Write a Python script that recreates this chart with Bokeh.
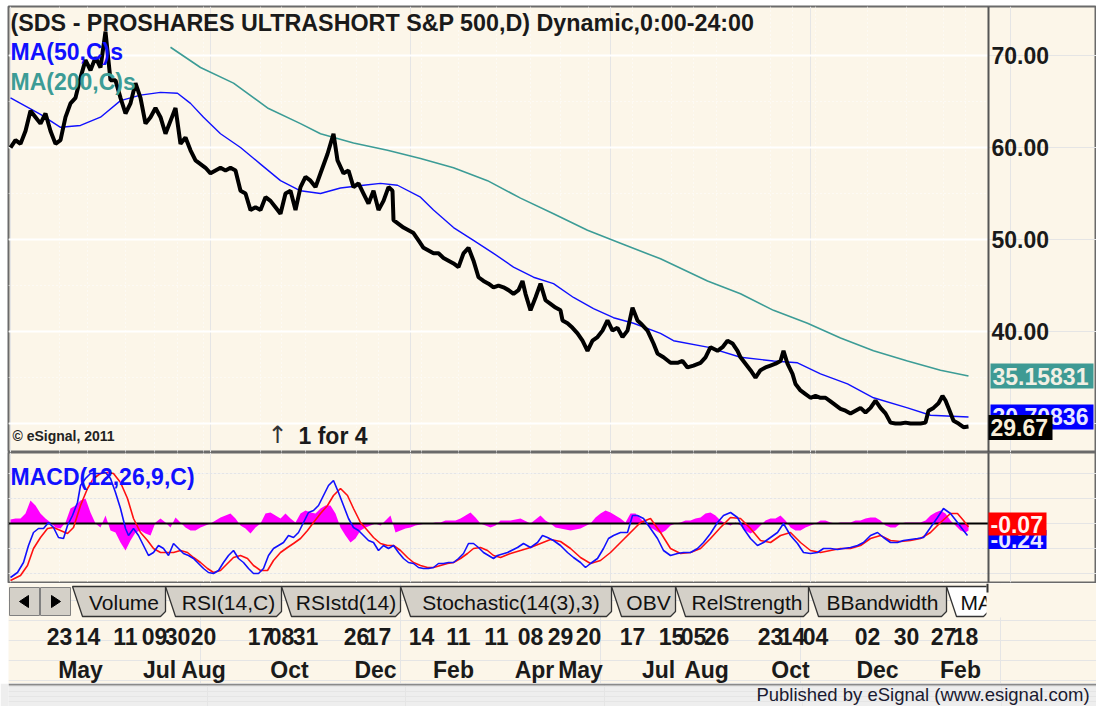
from bokeh.plotting import figure
from bokeh.models import Range1d, Label
from bokeh.layouts import column
from bokeh.embed import file_html
from bokeh.resources import INLINE
from bokeh.core.properties import value

# ---------------- data (session index, value) ----------------
close_pts = [(0, 60.0), (2.5, 60.8), (5, 60.4), (7.5, 61.8), (10, 64.0), (12.5, 63.3), (15, 62.6), (17.5, 63.7),
             (20, 61.8), (22.5, 60.4), (25, 60.8), (27.5, 63.3), (30, 64.8), (32.5, 65.4), (35, 67.6), (37.5, 69.5),
             (40, 68.4), (42.5, 69.8), (45, 68.7), (47.5, 72.6), (50, 67.3), (52.5, 67.3), (55, 65.4), (57.5, 63.7),
             (60, 64.8), (62.5, 67.0), (65, 65.4), (67.5, 62.6), (70, 63.3), (72.5, 64.3), (75, 63.3), (77.5, 61.5),
             (80, 62.9), (82.5, 64.3), (85, 60.4), (87.5, 61.1), (90, 59.7), (92.5, 58.6), (95, 58.2), (97.5, 57.8),
             (100, 57.2), (102.5, 57.5), (105, 57.8), (107.5, 57.5), (110, 57.8), (112.5, 57.5), (115, 55.3),
             (117.5, 55.0), (120, 53.2), (122.5, 53.5), (125, 53.2), (127.5, 54.6), (130, 54.2), (132.5, 53.5),
             (135, 52.8), (137.5, 55.0), (140, 55.3), (142.5, 53.2), (145, 55.7), (147.5, 56.8), (150, 56.4),
             (152.5, 55.7), (155, 57.2), (158.5, 59.3), (161.5, 61.5), (163.5, 58.6), (166.5, 57.2), (169, 57.5),
             (171.5, 55.7), (174, 56.1), (176.5, 55.0), (179, 53.9), (181.5, 55.3), (184, 53.2), (186.5, 54.2),
             (189, 55.7), (191, 55.3), (191.5, 52.1), (194, 51.7), (196.5, 51.3), (199, 51.0), (201.5, 50.7),
             (204, 49.9), (206.5, 49.1), (209, 48.8), (211.5, 48.5), (214, 48.5), (216.5, 48.0), (219, 47.7),
             (221.5, 47.4), (224, 47.0), (226.5, 48.5), (229, 49.1), (231.5, 47.7), (234, 45.9), (236.5, 45.5),
             (239, 45.2), (241.5, 44.8), (244, 45.0), (246.5, 44.8), (249, 44.5), (251.5, 44.1), (254, 44.5),
             (256, 45.5), (257.5, 44.1), (260, 42.3), (262.5, 43.7), (265, 45.2), (267.5, 43.4), (270, 43.0),
             (272.5, 42.6), (275, 42.3), (276, 41.2), (278.5, 40.9), (281, 40.4), (283.5, 39.8), (286, 39.0),
             (288.5, 37.9), (291, 39.0), (293.5, 39.4), (296, 40.1), (298.5, 41.2), (301, 40.1), (303.5, 40.4),
             (306, 39.4), (308.5, 40.1), (311, 42.6), (313.5, 41.2), (315, 40.9), (318.5, 40.1), (321.5, 38.7),
             (323.5, 37.6), (326.5, 37.2), (330, 36.6), (333.5, 36.6), (336, 36.8), (338.5, 36.1), (341.5, 36.3),
             (345, 36.6), (347.5, 37.2), (350, 38.3), (353.5, 37.9), (356, 38.3), (358.5, 39.0), (361, 38.7),
             (363.5, 37.9), (365, 37.2), (367.5, 36.5), (370, 35.8), (372.5, 35.0), (375, 35.8), (377.5, 36.1),
             (380, 36.3), (382.5, 36.5), (385, 36.8), (386.5, 37.9), (388.5, 36.5), (391, 35.4), (392.5, 34.3),
             (395, 33.6), (397.5, 33.2), (400, 32.8), (402.5, 33.0), (405, 32.8), (407.5, 32.8), (410, 32.4),
             (412.5, 32.0), (415, 31.6), (417.5, 31.4), (420, 31.1), (422.5, 31.4), (425, 31.7), (427.5, 31.2),
             (430, 31.7), (432.5, 32.5), (435, 31.7), (437.5, 31.1), (440, 30.1), (442.5, 30.0), (445, 30.0),
             (447.5, 30.1), (450, 30.0), (452.5, 30.0), (455, 30.0), (457.5, 30.1), (459, 31.4), (461.5, 31.7),
             (464, 32.2), (466, 33.0), (467.5, 32.5), (469, 31.7), (471.5, 30.3), (474, 30.0), (476.5, 29.6),
             (479, 29.67)]

ma50_pts = [(0, 65.4), (15, 63.6), (25, 62.2), (35, 62.4), (45, 63.3), (55, 65.1), (65, 65.7), (75, 66.0),
            (83.5, 65.9), (90, 64.8), (96.5, 63.3), (105, 61.5), (115, 60.0), (125, 58.2), (135, 56.4),
            (145, 55.3), (155, 55.0), (165, 55.6), (176.5, 55.9), (185, 56.1), (193.5, 55.9), (205, 54.6),
            (211.5, 53.2), (221.5, 51.3), (231.5, 49.9), (241.5, 48.5), (251.5, 47.0), (261.5, 45.9),
            (271.5, 45.2), (281.5, 43.7), (291.5, 42.5), (301.5, 41.5), (311.5, 40.9), (325, 39.8), (331.5, 39.0),
            (348.5, 38.3), (365, 37.2), (381.5, 36.8), (393.5, 36.6), (405, 35.4), (418.5, 34.3), (431.5, 32.8),
            (448.5, 31.7), (460, 30.9), (479, 30.71)]

ma200_pts = [(80, 70.9), (95, 68.7), (111.5, 67.0), (128.5, 64.3), (145, 62.6), (155, 61.5), (171.5, 60.5),
             (188.5, 59.7), (205, 58.8), (221.5, 57.8), (238.5, 56.4), (255, 54.5), (271.5, 52.8), (288.5, 51.0),
             (305, 49.6), (325, 47.9), (348.5, 45.5), (365, 44.1), (381.5, 42.3), (398.5, 40.9), (415, 39.3),
             (431.5, 37.9), (448.5, 36.8), (465, 35.8), (479, 35.16)]

macd_pts = [(0, -1.08), (3.5, -0.98), (6.5, -0.78), (9, -0.44), (11.5, -0.18), (14, -0.10), (16.5, -0.10),
            (19, 0.02), (21.5, -0.08), (24, -0.28), (26.5, -0.30), (28.5, -0.04), (31, 0.16), (33.5, 0.42),
            (35, 0.76), (37.5, 0.90), (40, 1.00), (42.5, 1.00), (45, 1.00), (47.5, 1.02), (50, 0.90),
            (52.5, 0.62), (55, 0.30), (57.5, -0.10), (59, -0.24), (61.5, -0.10), (64, -0.24), (66.5, -0.44),
            (69, -0.64), (71.5, -0.58), (74, -0.44), (76.5, -0.50), (79, -0.64), (81.5, -0.40), (84, -0.50),
            (86.5, -0.60), (89, -0.64), (91.5, -0.70), (94, -0.80), (96.5, -0.90), (99, -0.98), (101.5, -1.00),
            (104, -0.94), (106.5, -0.78), (109, -0.64), (111.5, -0.54), (114, -0.70), (116.5, -0.78),
            (119, -0.90), (121.5, -1.00), (124, -1.00), (126.5, -0.90), (129, -0.64), (131.5, -0.50),
            (134, -0.44), (136.5, -0.38), (139, -0.24), (141.5, -0.28), (144, -0.18), (146.5, 0.02), (149, 0.22),
            (151.5, 0.26), (154, 0.36), (156.5, 0.56), (159, 0.76), (161.5, 0.86), (164, 0.62), (166.5, 0.36),
            (169, 0.10), (171.5, -0.08), (174, -0.14), (176.5, -0.24), (179, -0.34), (181.5, -0.38),
            (184, -0.54), (186.5, -0.44), (189, -0.50), (191.5, -0.44), (194, -0.58), (196.5, -0.70),
            (199, -0.78), (201.5, -0.80), (204, -0.88), (206.5, -0.90), (209, -0.90), (211.5, -0.88),
            (214, -0.80), (216.5, -0.80), (219, -0.78), (221.5, -0.78), (224, -0.70), (226.5, -0.60),
            (229, -0.40), (231.5, -0.40), (234, -0.48), (236.5, -0.58), (239, -0.64), (241.5, -0.70),
            (243.5, -0.64), (248.5, -0.58), (253.5, -0.48), (256.5, -0.40), (260, -0.48), (263.5, -0.38),
            (266, -0.24), (268.5, -0.28), (271.5, -0.34), (275, -0.44), (278.5, -0.58), (281.5, -0.68),
            (285, -0.78), (287.5, -0.88), (290, -0.80), (293.5, -0.70), (296.5, -0.50), (299, -0.30),
            (301.5, -0.24), (305, -0.18), (308.5, -0.18), (311, 0.16), (313.5, 0.16), (316.5, 0.10),
            (320, -0.10), (323.5, -0.30), (326.5, -0.54), (330, -0.64), (333.5, -0.60), (336.5, -0.58),
            (340, -0.58), (343.5, -0.50), (346.5, -0.38), (350, -0.20), (353.5, 0.02), (356.5, 0.16),
            (360, 0.22), (363.5, 0.12), (366.5, -0.10), (370, -0.30), (373.5, -0.44), (376.5, -0.38),
            (380, -0.28), (383.5, -0.18), (386.5, 0.00), (390, -0.24), (393.5, -0.40), (396.5, -0.58),
            (400, -0.60), (403.5, -0.58), (406.5, -0.50), (410, -0.50), (413.5, -0.52), (416.5, -0.50),
            (420, -0.48), (423.5, -0.44), (426.5, -0.38), (430, -0.24), (433.5, -0.18), (436.5, -0.28),
            (440, -0.38), (443.5, -0.38), (446.5, -0.34), (450, -0.32), (453.5, -0.30), (456.5, -0.28),
            (460, -0.08), (463.5, 0.12), (466.5, 0.30), (470, 0.20), (473.5, 0.02), (476.5, -0.14),
            (478.5, -0.24)]

signal_pts = [(0, -1.14), (5, -1.04), (8.5, -0.84), (11.5, -0.50), (15, -0.28), (18.5, -0.10), (21.5, -0.08),
              (25, -0.14), (28.5, -0.20), (31.5, -0.08), (35, 0.36), (38.5, 0.70), (41.5, 0.90), (45, 1.00),
              (48.5, 1.02), (51.5, 1.00), (55, 0.82), (58.5, 0.50), (61.5, 0.10), (65, -0.18), (68.5, -0.34),
              (71.5, -0.50), (75, -0.58), (78.5, -0.58), (81.5, -0.58), (85, -0.54), (88.5, -0.58),
              (91.5, -0.68), (95, -0.78), (98.5, -0.90), (101.5, -0.98), (105, -0.94), (108.5, -0.80),
              (111.5, -0.68), (115, -0.64), (118.5, -0.70), (121.5, -0.84), (125, -0.94), (128.5, -0.94),
              (131.5, -0.74), (135, -0.58), (138.5, -0.48), (141.5, -0.40), (145, -0.30), (148.5, -0.14),
              (151.5, 0.02), (155, 0.20), (158.5, 0.36), (161.5, 0.56), (165, 0.70), (168.5, 0.56),
              (171.5, 0.30), (175, 0.02), (178.5, -0.14), (181.5, -0.28), (185, -0.40), (188.5, -0.44),
              (191.5, -0.44), (195, -0.54), (198.5, -0.68), (201.5, -0.78), (205, -0.84), (208.5, -0.88),
              (211.5, -0.88), (215, -0.84), (218.5, -0.80), (221.5, -0.78), (225, -0.70), (228.5, -0.60),
              (231.5, -0.50), (235, -0.48), (238.5, -0.54), (241.5, -0.64), (245, -0.68), (250, -0.60),
              (255, -0.54), (260, -0.48), (265, -0.40), (270, -0.32), (275, -0.36), (280, -0.50), (285, -0.68),
              (290, -0.80), (295, -0.74), (300, -0.58), (305, -0.38), (310, -0.18), (315, 0.02), (320, 0.10),
              (325, -0.18), (330, -0.50), (335, -0.60), (340, -0.58), (345, -0.50), (350, -0.30), (355, -0.08),
              (360, 0.12), (365, 0.10), (370, -0.10), (375, -0.34), (380, -0.38), (385, -0.24), (390, -0.18),
              (395, -0.38), (400, -0.54), (405, -0.58), (410, -0.54), (415, -0.50), (420, -0.50), (425, -0.44),
              (430, -0.30), (435, -0.24), (440, -0.34), (445, -0.36), (450, -0.34), (455, -0.30), (460, -0.18),
              (465, 0.02), (470, 0.20), (473.5, 0.20), (476.5, 0.06), (479, -0.07)]

hist_pts = [(0, 0.08), (2.5, 0.10), (5, 0.10), (7.5, 0.20), (10, 0.46), (12.5, 0.36), (15, 0.20), (17.5, 0.10),
            (20, 0.02), (22.5, -0.08), (25, -0.10), (27.5, 0.02), (30, 0.30), (32.5, 0.36), (35, 0.46),
            (37.5, 0.50), (40, 0.22), (42.5, 0.00), (45, -0.08), (47.5, 0.16), (50, -0.14), (52.5, -0.18),
            (55, -0.38), (57.5, -0.54), (60, -0.34), (62.5, -0.18), (65, -0.14), (67.5, -0.20), (70, -0.24),
            (72.5, 0.02), (75, 0.10), (77.5, 0.02), (80, -0.08), (82.5, 0.12), (85, 0.02), (87.5, -0.08),
            (90, -0.14), (92.5, -0.14), (95, -0.08), (97.5, -0.04), (100, 0.00), (102.5, 0.06), (105, 0.12),
            (107.5, 0.16), (110, 0.20), (112.5, 0.10), (115, -0.04), (117.5, -0.10), (120, -0.20),
            (122.5, -0.08), (125, 0.00), (127.5, 0.20), (130, 0.22), (132.5, 0.16), (135, 0.10), (137.5, 0.20),
            (140, 0.10), (142.5, 0.02), (145, 0.20), (147.5, 0.26), (150, 0.22), (152.5, 0.20), (155, 0.30),
            (157.5, 0.36), (160, 0.36), (162.5, 0.20), (165, -0.08), (167.5, -0.24), (170, -0.38),
            (172.5, -0.30), (175, -0.14), (177.5, -0.08), (180, -0.04), (182.5, 0.00), (185, -0.04),
            (187.5, 0.06), (190, 0.16), (192.5, -0.18), (195, -0.14), (197.5, -0.10), (200, -0.08),
            (202.5, -0.04), (205, -0.02), (207.5, 0.00), (210, 0.00), (212.5, 0.02), (215, 0.02), (217.5, 0.06),
            (220, 0.06), (222.5, 0.06), (225, 0.10), (227.5, 0.16), (230, 0.22), (232.5, 0.12), (235, 0.00),
            (237.5, -0.04), (240, -0.08), (242.5, -0.04), (245, 0.06), (250, 0.06), (255, 0.10), (260, 0.00),
            (265, 0.16), (267.5, 0.06), (270, 0.00), (272.5, -0.08), (275, -0.10), (280, -0.14), (285, -0.10),
            (290, 0.00), (292.5, 0.12), (295, 0.20), (297.5, 0.26), (300, 0.22), (302.5, 0.16), (305, 0.10),
            (307.5, 0.02), (310, 0.20), (312.5, 0.20), (315, 0.10), (317.5, 0.00), (320, -0.08), (322.5, -0.14),
            (325, -0.20), (327.5, -0.14), (330, -0.04), (332.5, 0.00), (335, 0.02), (337.5, 0.06), (340, 0.06),
            (342.5, 0.10), (345, 0.12), (347.5, 0.20), (350, 0.22), (352.5, 0.16), (355, 0.06), (357.5, 0.00),
            (360, -0.04), (362.5, 0.02), (365, -0.04), (367.5, -0.14), (370, -0.20), (372.5, -0.14),
            (375, -0.04), (377.5, 0.06), (380, 0.10), (382.5, 0.10), (385, 0.16), (387.5, 0.06), (390, -0.08),
            (392.5, -0.14), (395, -0.14), (397.5, -0.08), (400, -0.04), (402.5, 0.00), (405, 0.06),
            (407.5, 0.06), (410, 0.02), (412.5, 0.00), (415, 0.02), (417.5, 0.02), (420, 0.02), (422.5, 0.06),
            (425, 0.06), (427.5, 0.10), (430, 0.12), (432.5, 0.12), (435, 0.06), (437.5, -0.04), (440, -0.08),
            (442.5, -0.08), (445, 0.00), (447.5, 0.02), (450, 0.02), (452.5, 0.02), (455, 0.02), (457.5, 0.06),
            (460, 0.16), (462.5, 0.22), (465, 0.26), (467.5, 0.20), (470, 0.06), (472.5, -0.04), (475, -0.14),
            (477.5, -0.18), (479, -0.14)]

day_ticks = [24.5, 38.5, 57.5, 72, 83.5, 96.5, 125, 135.5, 147.5, 173, 184, 205.5, 224, 243, 260, 275, 289,
             311, 330.5, 341.5, 353, 380, 391, 402.5, 428.5, 448, 466.5, 477.5]
day_labels = ["23", "14", "11", "09", "30", "20", "17", "08", "31", "26", "17", "14", "11", "11", "08", "29",
              "20", "17", "15", "05", "26", "23", "14", "04", "02", "30", "27", "18"]
month_ticks = [35, 74.5, 96.5, 139.5, 182.5, 221.5, 262, 285, 324, 348, 390, 433.5, 475]
month_labels = ["May", "Jul", "Aug", "Oct", "Dec", "Feb", "Apr", "May", "Jul", "Aug", "Oct", "Dec", "Feb"]

price_ticks = [40, 50, 60, 70]
price_grid = [30, 40, 50, 60, 70]
price_minor_grid = [35, 45, 55, 65]
macd_grid = [-1.0, -0.5, 0.5, 1.0]

ma200_value_text = "35.15831"
ma50_value_text = "30.70836"
close_value_text = "29.67"

tab_labels = ["Volume", "RSI(14,C)", "RSIstd(14)", "Stochastic(14(3),3)", "OBV", "RelStrength", "BBandwidth", "MA"]

title_text = "(SDS - PROSHARES ULTRASHORT S&P 500,D) Dynamic,0:00-24:00"

# ---------------- style / layout constants ----------------
CREAM = "#FCF6E9"
FONT = "Liberation Sans"
TEAL = "#3C9C96"
BLUE = "#1010FF"
DARK = "#1a1a1a"
W = 1096
X0, X_AXIS, X1 = -1, 489, 543          # session units: frame left, price-axis line, frame right
PX_X = 0.5                              # session units per pixel
PX_P = 1 / 9.2                          # price units per pixel
PX_M = 0.02                             # MACD units per pixel


def xs(pts):
    return [p[0] for p in pts]


def ys(pts):
    return [p[1] for p in pts]


x_range = Range1d(X0, X1)

common = dict(width=W, output_backend="svg", toolbar_location=None, x_axis_location=None,
              y_axis_location=None, background_fill_color=CREAM, border_fill_color="white",
              min_border_left=8, min_border_right=0)


def lab(fig, x, y, text, size="23px", color=DARK, style="bold", align="left", font=FONT):
    fig.add_layout(Label(x=x, y=y, text=text, text_font=font, text_font_size=size, text_color=color,
                         text_font_style=style, text_align=align, text_baseline="middle"))


def value_box(fig, v, text, fill, tcolor, left_px, width_px, height_px, unit, shift_px=0):
    c = v + shift_px * unit
    left = X_AXIS + left_px * PX_X
    fig.quad(left=[left], right=[left + width_px * PX_X], bottom=[c - height_px / 2 * unit],
             top=[c + height_px / 2 * unit], fill_color=fill, line_color=None)
    fig.text(x=[left], y=[c], text=[text], x_offset=2, text_font=value(FONT), text_font_size="23px",
             text_font_style="bold", text_color=tcolor, text_align="left", text_baseline="middle")


# ---------------- price panel ----------------
p1 = figure(height=452, x_range=x_range, y_range=Range1d(26.85, 75.33), min_border_top=6,
            min_border_bottom=0, outline_line_color="#6a6a6a", outline_line_width=2, **common)
p1.vspan(x=day_ticks, line_color="white", line_width=1, line_dash="1 3")
p1.segment(x0=X0, x1=X_AXIS, y0=price_minor_grid, y1=price_minor_grid, line_color="white", line_width=1,
           line_dash="1 3")
p1.segment(x0=X0, x1=X_AXIS, y0=price_grid, y1=price_grid, line_color="white", line_width=2)
p1.line(xs(ma200_pts), ys(ma200_pts), line_color=TEAL, line_width=1.6)
p1.line(xs(ma50_pts), ys(ma50_pts), line_color=BLUE, line_width=1.4)
p1.line(xs(close_pts), ys(close_pts), line_color="black", line_width=4)

# price axis (right)
p1.vspan(x=[X_AXIS], line_color="#555555", line_width=2)
p1.text(x=[X_AXIS] * len(price_ticks), y=price_ticks, text=["%.2f" % t for t in price_ticks], x_offset=3,
        text_font=value(FONT), text_font_size="23px", text_font_style="bold", text_color=DARK,
        text_align="left", text_baseline="middle")

lab(p1, 0, 73.59, title_text, size="23.3px")
lab(p1, 0, 70.33, "MA(50,C)s", color=BLUE)
lab(p1, 0, 67.07, "MA(200,C)s", color=TEAL)
lab(p1, 1, 28.59, "\u00a9 eSignal, 2011", size="14px", color="#222222")
lab(p1, 133.5, 28.7, "\u2191", size="24px", color="#333333", style="normal", align="center", font="DejaVu Sans")
lab(p1, 144, 28.59, "1 for 4")

value_box(p1, ys(ma200_pts)[-1], ma200_value_text, "#3E9A94", "#F2F0E4", 2, 103, 25, PX_P)
value_box(p1, ys(ma50_pts)[-1], ma50_value_text, "#0000FF", "#E8E8FF", 2, 103, 25, PX_P)
value_box(p1, ys(close_pts)[-1], close_value_text, "#000000", "#F8EED8", 0, 64, 25, PX_P, shift_px=-1)

# ---------------- MACD panel ----------------
p2 = figure(height=131, x_range=x_range, y_range=Range1d(-1.18, 1.42), min_border_top=0,
            min_border_bottom=1, outline_line_color="#6a6a6a", outline_line_width=2, **common)
p2.vspan(x=day_ticks, line_color="white", line_width=1, line_dash="1 3")
p2.segment(x0=X0, x1=X_AXIS, y0=macd_grid, y1=macd_grid, line_color="white", line_width=1, line_dash="1 3")
p2.varea(x=xs(hist_pts), y1=0, y2=ys(hist_pts), fill_color="#FF00FF")
p2.segment(x0=[X0], x1=[X_AXIS], y0=[0], y1=[0], line_color="black", line_width=2)
p2.line(xs(signal_pts), ys(signal_pts), line_color="#FF1010", line_width=1.6)
p2.line(xs(macd_pts), ys(macd_pts), line_color=BLUE, line_width=1.6)
p2.vspan(x=[X_AXIS], line_color="#555555", line_width=2)
lab(p2, 0, 0.94, "MACD(12,26,9,C)", color=BLUE)
value_box(p2, ys(macd_pts)[-1], "%.2f" % ys(macd_pts)[-1], "#0000FF", "#E8E8FF", 0, 58, 19, PX_M, shift_px=-4)
value_box(p2, ys(signal_pts)[-1], "%.2f" % ys(signal_pts)[-1], "#FF0000", "#FFF4F0", 0, 58, 23, PX_M,
          shift_px=3)

# ---------------- tab bar + date labels ----------------
p3 = figure(height=100, x_range=Range1d(8, W), y_range=Range1d(683, 583), min_border_top=0,
            min_border_bottom=0, outline_line_color=None, **common)
p3.extra_x_ranges = {"sessions": x_range}

tab_edges = [72, 165, 281, 400, 611, 675, 808, 946, 988]
t_xs, t_ys, t_cx, t_align = [], [], [], []
for i in range(len(tab_labels)):
    a, b = tab_edges[i], tab_edges[i + 1]
    t_xs.append([a, b, b, b - 5, a + 10])
    t_ys.append([586, 586, 611, 616, 616])
    last = i == len(tab_labels) - 1
    t_cx.append(a + 14 if last else (a + 10 + b) / 2)
    t_align.append("left" if last else "center")
fills = ["#D4D0C8"] * (len(tab_labels) - 1) + ["#FFFFFF"]
p3.patches(t_xs, t_ys, fill_color=fills, line_color="#333333", line_width=1.3)
p3.text(x=t_cx, y=[602] * len(tab_labels), text=tab_labels, text_font=value(FONT), text_font_size="21px",
        text_color="#111111", text_align=t_align, text_baseline="middle")
p3.quad(left=[986], right=[W], top=[583], bottom=[617], fill_color=CREAM, line_color=None)
p3.segment(x0=[987], x1=[987], y0=[583], y1=[592], line_color="#333333", line_width=2)
p3.quad(left=[9, 40], right=[39, 70], top=[587, 587], bottom=[615, 615], fill_color="#D4D0C8",
        line_color="#808080", line_width=1)
p3.patches([[19, 28, 28], [60, 51, 51]], [[601, 595, 607], [601, 595, 607]], fill_color="black",
           line_color="black")

p3.text(x=day_ticks, y=[636] * len(day_ticks), text=day_labels, x_range_name="sessions",
        text_font=value(FONT), text_font_size="23px", text_font_style="bold", text_color=DARK,
        text_align="center", text_baseline="middle")
p3.text(x=month_ticks, y=[669] * len(month_ticks), text=month_labels, x_range_name="sessions",
        text_font=value(FONT), text_font_size="23px", text_font_style="bold", text_color=DARK,
        text_align="center", text_baseline="middle")

# ---------------- status bar ----------------
p4 = figure(width=W, height=23, x_range=Range1d(0, W), y_range=Range1d(0, 23), output_backend="svg",
            toolbar_location=None, x_axis_location=None, y_axis_location=None, background_fill_color="#EEEEEE",
            border_fill_color="#EEEEEE", min_border=0, outline_line_color=None)
p4.hspan(y=[22.3], line_color="#8a8a8a", line_width=2)
p4.text(x=[1089], y=[12], text=["Published by eSignal (www.esignal.com)"], text_font=value(FONT),
        text_font_size="18.5px", text_color="#1a1a30", text_align="right", text_baseline="middle")

layout = column(p1, p2, p3, p4, spacing=0)
open("out.html", "w").write(file_html(layout, INLINE))
